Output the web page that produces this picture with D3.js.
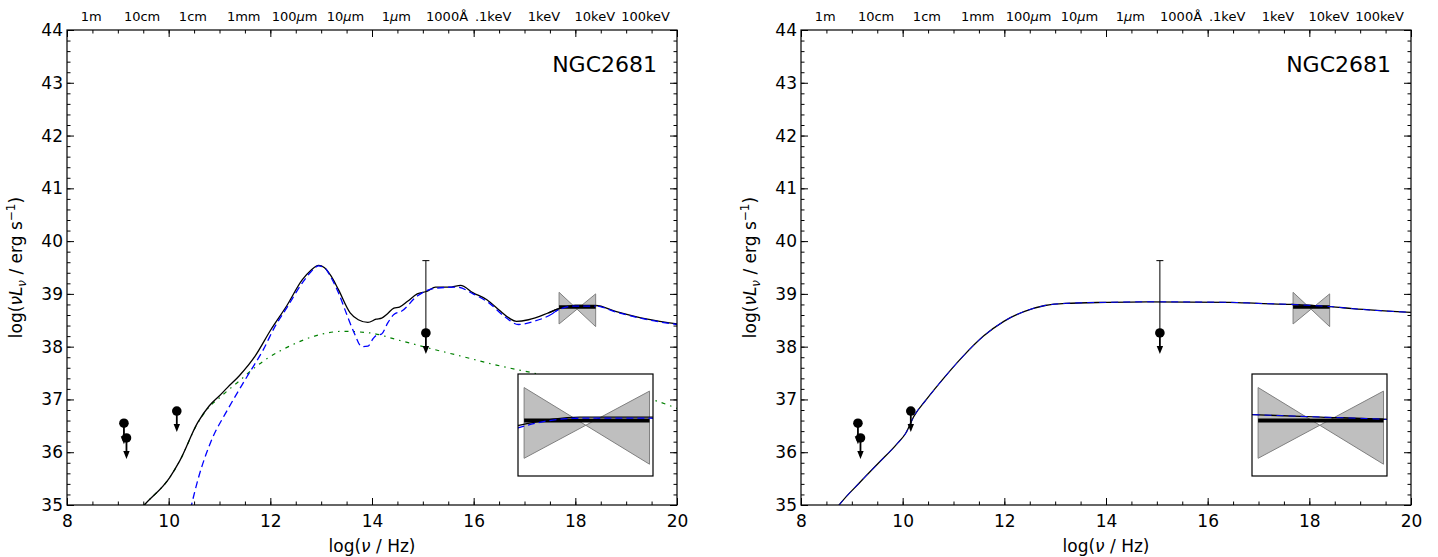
<!DOCTYPE html>
<html><head><meta charset="utf-8">
<script src="https://cdn.jsdelivr.net/npm/d3@7"></script>
<style>
body{margin:0;background:#fff;}
svg{display:block;font-family:"DejaVu Sans",sans-serif;}
</style></head>
<body>
<svg id="chart" width="1438" height="557"></svg>
<script>
// ---------- data ----------
const xTicks = [8,10,12,14,16,18,20];
const yTicks = [35,36,37,38,39,40,41,42,43,44];
const topLabels = [["1m"],["10cm"],["1cm"],["1mm"],["100","\u03bc","m"],["10","\u03bc","m"],["1","\u03bc","m"],["1000\u00c5"],[".1keV"],["1keV"],["10keV"],["100keV"]];
const topLabelPos = [8.477,9.477,10.477,11.477,12.477,13.477,14.477,15.477,16.383,17.383,18.383,19.383];
const sourceName = "NGC2681";

// left panel: total model (black), AGN component (blue dashed), host component (green dash-dot)
const leftTotal = [[9.3,34.75],[9.52,35.0],[10.02,35.52],[10.22,35.84],[10.57,36.56],[10.8,36.88],[11.0,37.07],[11.15,37.22],[11.39,37.45],[11.70,37.82],[12.01,38.32],[12.32,38.77],[12.63,39.27],[12.80,39.45],[12.95,39.54],[13.06,39.50],[13.20,39.33],[13.34,39.08],[13.57,38.64],[13.73,38.51],[13.92,38.46],[14.08,38.52],[14.19,38.54],[14.30,38.62],[14.43,38.73],[14.54,38.75],[14.70,38.86],[14.89,39.0],[15.09,39.05],[15.25,39.13],[15.56,39.13],[15.74,39.16],[15.99,39.02],[16.26,38.89],[16.53,38.67],[16.70,38.54],[16.84,38.48],[17.08,38.51],[17.47,38.64],[17.65,38.71],[18.0,38.78],[18.4,38.78],[18.79,38.67],[19.42,38.52],[20.0,38.43]];
const leftAgn = [[10.3,34.3],[10.45,35.0],[10.57,35.46],[10.84,36.22],[11.15,36.79],[11.54,37.43],[11.86,37.94],[12.09,38.38],[12.32,38.73],[12.63,39.21],[12.80,39.42],[12.95,39.53],[13.06,39.50],[13.20,39.30],[13.34,39.02],[13.50,38.62],[13.65,38.26],[13.80,38.0],[13.92,38.01],[14.02,38.15],[14.08,38.21],[14.19,38.24],[14.31,38.45],[14.43,38.61],[14.58,38.67],[14.89,38.96],[15.21,39.10],[15.67,39.13],[15.99,39.0],[16.30,38.83],[16.61,38.57],[16.88,38.42],[17.19,38.48],[17.54,38.62],[17.65,38.69],[18.0,38.77],[18.4,38.77],[18.79,38.66],[19.42,38.51],[20.0,38.42]];
const leftHost = [[9.3,34.75],[9.52,35.0],[10.02,35.52],[10.22,35.84],[10.57,36.55],[10.8,36.86],[11.0,37.03],[11.15,37.16],[11.39,37.35],[11.54,37.48],[11.93,37.77],[12.40,38.02],[12.87,38.20],[13.41,38.29],[13.96,38.26],[14.50,38.13],[15.13,37.97],[15.67,37.84],[16.45,37.65],[17.23,37.49],[18.0,37.33],[18.8,37.16],[19.57,36.98],[20.0,36.83]];

// right panel: total model and AGN component coincide
const rightTotal = [[8.6,34.8],[8.75,35.0],[9.17,35.44],[9.53,35.80],[9.88,36.15],[10.06,36.36],[10.22,36.68],[10.46,36.99],[10.78,37.37],[11.19,37.82],[11.59,38.20],[11.99,38.48],[12.40,38.67],[12.80,38.78],[13.20,38.82],[14.01,38.84],[14.81,38.85],[16.43,38.84],[16.99,38.82],[17.65,38.80],[18.04,38.78],[18.42,38.76],[18.85,38.72],[20.0,38.65]];
const rightAgn = rightTotal;

// photometric upper limits
const ulX = [9.12,9.17,10.16,15.06];
const ulY = [36.55,36.27,36.78,38.26];
const errTop = [null,null,null,39.63];

// X-ray bowtie
const bowX = [17.68,18.40];
const bowLo = [38.43,38.38];
const bowHi = [39.03,39.00];
const bowLevel = 38.75;

// inset domains
const insetXDomain = [17.645,18.42];
const insetYDomain = [38.28,39.145];

// ---------- drawing ----------
const svg = d3.select("#chart");
const W = 610, H = 475;
const defs = svg.append("defs");

function drawPanel(ox, oy, id, series) {
  const g = svg.append("g").attr("transform", `translate(${ox},${oy})`);
  const x = d3.scaleLinear().domain([8,20]).range([0,W]);
  const y = d3.scaleLinear().domain([35,44]).range([H,0]);

  defs.append("clipPath").attr("id","clip"+id).append("rect").attr("width",W).attr("height",H);
  const plot = g.append("g").attr("clip-path",`url(#clip${id})`);
  const line = d3.line().x(d=>x(d[0])).y(d=>y(d[1])).curve(d3.curveMonotoneX);

  series.forEach(s=>{
    plot.append("path").attr("d",line(s.data)).attr("fill","none")
      .attr("stroke",s.color).attr("stroke-width",s.width)
      .attr("stroke-dasharray",s.dash||null);
  });

  function bowtie(gg, xs, ys, thick) {
    const pts = [[xs(bowX[0]),ys(bowHi[0])],[xs(bowX[1]),ys(bowLo[1])],[xs(bowX[1]),ys(bowHi[1])],[xs(bowX[0]),ys(bowLo[0])]];
    gg.append("polygon").attr("points",pts.map(p=>p.join(",")).join(" "))
      .attr("fill","#bfbfbf").attr("stroke","#808080").attr("stroke-width",1);
    gg.append("line").attr("x1",xs(bowX[0])).attr("x2",xs(bowX[1]))
      .attr("y1",ys(bowLevel)).attr("y2",ys(bowLevel))
      .attr("stroke","#000").attr("stroke-width",thick);
  }
  const bg = plot.append("g");
  bowtie(bg, x, y, 3.5);
  series.forEach(s=>{
    bg.append("path").attr("d",line(s.data.filter(d=>d[0]>=17.4&&d[0]<=18.7))).attr("fill","none")
      .attr("stroke",s.color).attr("stroke-width",s.width)
      .attr("stroke-dasharray",s.dash||null);
  });

  // upper limits
  const pg = g.append("g");
  ulX.forEach((vx,i)=>{
    const px = x(vx), py = y(ulY[i]);
    if (errTop[i]!==null) {
      const pt = y(errTop[i]);
      pg.append("line").attr("x1",px).attr("x2",px).attr("y1",py).attr("y2",pt).attr("stroke","#000").attr("stroke-width",1);
      pg.append("line").attr("x1",px-3.5).attr("x2",px+3.5).attr("y1",pt).attr("y2",pt).attr("stroke","#000").attr("stroke-width",1);
    }
    const len = 21;
    pg.append("line").attr("x1",px).attr("x2",px).attr("y1",py).attr("y2",py+len-6).attr("stroke","#000").attr("stroke-width",1.8);
    pg.append("path").attr("d",`M${px-3.2},${py+len-8}L${px+3.2},${py+len-8}L${px},${py+len}Z`).attr("fill","#000");
    pg.append("circle").attr("cx",px).attr("cy",py).attr("r",4.8).attr("fill","#000");
  });

  // inset
  const iw = 135, ih = 102;
  const ig = g.append("g").attr("transform","translate(451,344)");
  defs.append("clipPath").attr("id","iclip"+id).append("rect").attr("width",iw).attr("height",ih);
  ig.append("rect").attr("width",iw).attr("height",ih).attr("fill","#fff");
  const ix = d3.scaleLinear().domain(insetXDomain).range([0,iw]);
  const iy = d3.scaleLinear().domain(insetYDomain).range([ih,0]);
  const ip = ig.append("g").attr("clip-path",`url(#iclip${id})`);
  bowtie(ip, ix, iy, 4);
  const iline = d3.line().x(d=>ix(d[0])).y(d=>iy(d[1])).curve(d3.curveMonotoneX);
  series.filter(s=>!s.noInset).forEach(s=>{
    ip.append("path").attr("d",iline(s.data)).attr("fill","none")
      .attr("stroke",s.color).attr("stroke-width",s.width)
      .attr("stroke-dasharray",s.dash||null);
  });
  ig.append("rect").attr("width",iw).attr("height",ih).attr("fill","none").attr("stroke","#000").attr("stroke-width",1.2);

  // axes
  const minor = d3.range(8,20.01,0.5);
  const yminor = d3.range(35,44.01,0.2);
  function styleAxis(a){ a.select(".domain").remove(); a.selectAll("line").attr("stroke","#000"); }
  const ax1 = g.append("g").attr("transform",`translate(0,${H})`)
    .call(d3.axisBottom(x).tickValues(xTicks).tickSize(-7).tickPadding(10).tickFormat(d3.format("d")));
  styleAxis(ax1);
  ax1.selectAll("text").attr("font-size",17).attr("font-family","DejaVu Sans").attr("fill","#000");
  styleAxis(g.append("g").attr("transform",`translate(0,${H})`).call(d3.axisBottom(x).tickValues(minor).tickSize(-3.5).tickFormat("")));
  styleAxis(g.append("g").call(d3.axisTop(x).tickValues(xTicks).tickSize(-7).tickFormat("")));
  styleAxis(g.append("g").call(d3.axisTop(x).tickValues(minor).tickSize(-3.5).tickFormat("")));
  const ay = g.append("g").call(d3.axisLeft(y).tickValues(yTicks).tickSize(-7).tickPadding(4).tickFormat(d3.format("d")));
  styleAxis(ay);
  ay.selectAll("text").attr("font-size",17).attr("font-family","DejaVu Sans").attr("fill","#000");
  styleAxis(g.append("g").call(d3.axisLeft(y).tickValues(yminor).tickSize(-3.5).tickFormat("")));
  styleAxis(g.append("g").attr("transform",`translate(${W},0)`).call(d3.axisRight(y).tickValues(yTicks).tickSize(-7).tickFormat("")));
  styleAxis(g.append("g").attr("transform",`translate(${W},0)`).call(d3.axisRight(y).tickValues(yminor).tickSize(-3.5).tickFormat("")));

  g.append("rect").attr("width",W).attr("height",H).attr("fill","none").attr("stroke","#000").attr("stroke-width",1.2);

  // top wavelength/energy labels
  const tl = g.selectAll(".toplab").data(topLabels).enter().append("text")
    .attr("x",(d,i)=>x(topLabelPos[i])).attr("y",-9)
    .attr("text-anchor","middle").attr("font-size",13);
  tl.each(function(parts){
    const t = d3.select(this);
    parts.forEach((p,k)=>{
      t.append("tspan").attr("font-style", (parts.length>1 && k===1) ? "italic" : null).text(p);
    });
  });

  // source name
  g.append("text").attr("x",590).attr("y",42).attr("text-anchor","end").attr("font-size",22).text(sourceName);

  // x label
  const xl = g.append("text").attr("x",W/2).attr("y",H+47).attr("text-anchor","middle").attr("font-size",17);
  xl.append("tspan").text("log(");
  xl.append("tspan").attr("font-style","italic").text("\u03bd");
  xl.append("tspan").text(" / Hz)");

  // y label
  const yl = g.append("text").attr("transform",`translate(-45,${H/2}) rotate(-90)`).attr("text-anchor","middle").attr("font-size",17);
  yl.append("tspan").text("log(");
  yl.append("tspan").attr("font-style","italic").text("\u03bdL");
  yl.append("tspan").attr("font-style","italic").attr("font-size",12).attr("dy",4).text("\u03bd");
  yl.append("tspan").attr("dy",-4).text(" / erg s");
  yl.append("tspan").attr("font-size",12).attr("dy",-7).text("\u22121");
  yl.append("tspan").attr("dy",7).text(")");
}

drawPanel(67,30,"L",[
  {data:leftHost,color:"#008000",width:1.2,dash:"4,5,1.5,5"},
  {data:leftTotal,color:"#000",width:1.3},
  {data:leftAgn,color:"#0000ff",width:1.3,dash:"7,4"}
]);
drawPanel(801,30,"R",[
  {data:rightTotal,color:"#000",width:1.3},
  {data:rightAgn,color:"#0000ff",width:1.0,dash:"7,5"}
]);
</script>
</body></html>
